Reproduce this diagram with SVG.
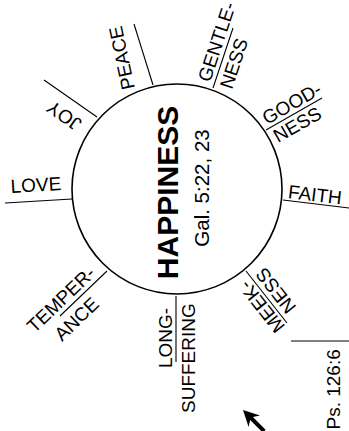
<svg xmlns="http://www.w3.org/2000/svg" width="349" height="431" viewBox="0 0 349 431">
<style>
.lbl{font-family:"Liberation Sans",Arial,Helvetica,sans-serif;font-size:19px;fill:#000}
.ln{stroke:#000;stroke-width:1.1;fill:none}
</style>
<rect width="349" height="431" fill="#fff"/>
<g id="connectors">
<line class="ln" x1="153" y1="85" x2="134" y2="24"/>
<line class="ln" x1="97" y1="117" x2="44" y2="80"/>
<line class="ln" x1="72" y1="199" x2="5" y2="203"/>
<line class="ln" x1="213" y1="88" x2="233" y2="28"/>
<line class="ln" x1="266" y1="130" x2="322" y2="98"/>
<line class="ln" x1="283" y1="200" x2="349" y2="208"/>
<line class="ln" x1="246" y1="271" x2="287" y2="323"/>
<line class="ln" x1="176" y1="296" x2="176" y2="362"/>
<line class="ln" x1="107" y1="271" x2="60" y2="316"/>
<line class="ln" x1="291" y1="341" x2="349" y2="341"/>
</g>
<g id="center">
<circle cx="177" cy="189" r="105" fill="none" stroke="#000" stroke-width="1.6"/>
<text class="lbl" transform="translate(178,192.5) rotate(-90)" text-anchor="middle" style="font-size:30px;font-weight:bold">HAPPINESS</text>
<text class="lbl" transform="translate(209,188) rotate(-90)" text-anchor="middle" style="font-size:20.5px">Gal. 5:22, 23</text>
</g>
<g id="peace"><text class="lbl" transform="translate(135,88) rotate(-102)">PEACE</text></g>
<g id="joy"><text class="lbl" transform="translate(83,121) rotate(-145)">JOY</text></g>
<g id="love"><text class="lbl" transform="translate(11,193) rotate(-3.5)">LOVE</text></g>
<g id="gentleness">
<text class="lbl" transform="translate(210,83) rotate(-71.6)">GENTLE-</text>
<text class="lbl" transform="translate(232,90) rotate(-71.6)">NESS</text>
</g>
<g id="goodness">
<text class="lbl" transform="translate(267,125) rotate(-29.7)">GOOD-</text>
<text class="lbl" transform="translate(278,143) rotate(-29.7)">NESS</text>
</g>
<g id="faith"><text class="lbl" transform="translate(287.5,198) rotate(6.9)">FAITH</text></g>
<g id="meekness">
<text class="lbl" transform="translate(285.7,326.3) rotate(-128.3)">MEEK-</text>
<text class="lbl" transform="translate(297,307) rotate(-128.3)">NESS</text>
</g>
<g id="longsuffering">
<text class="lbl" transform="translate(172,368) rotate(-90)">LONG-</text>
<text class="lbl" transform="translate(194.5,413) rotate(-90)">SUFFERING</text>
</g>
<g id="temperance">
<text class="lbl" transform="translate(34.6,333.7) rotate(-43.7)">TEMPER-</text>
<text class="lbl" transform="translate(62,342) rotate(-43.7)">ANCE</text>
</g>
<g id="ps"><text class="lbl" transform="translate(339.5,429.5) rotate(-90)">Ps. 126:6</text></g>
<g id="cursor">
<polygon points="243,410 260,415.6 252.9,417.1 265.6,429.8 262.8,432.6 250.1,419.9 248.6,427" fill="#000"/>
</g>
</svg>
